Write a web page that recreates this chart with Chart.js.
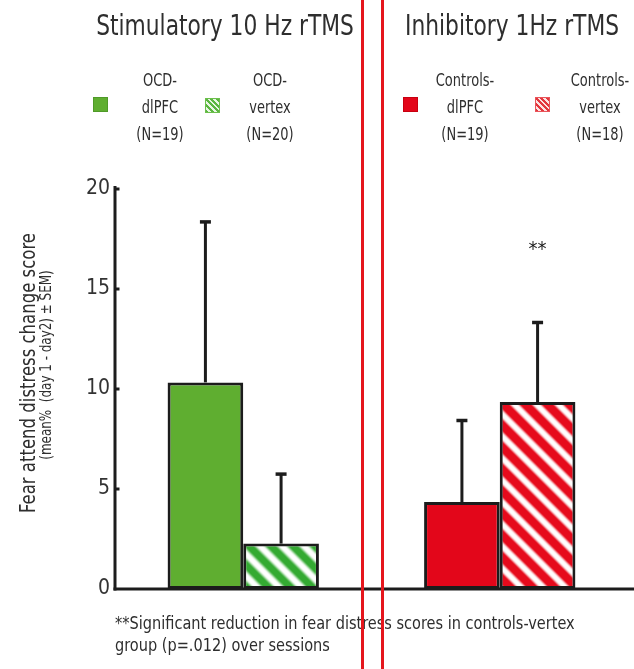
<!DOCTYPE html>
<html>
<head>
<meta charset="utf-8">
<script src="https://cdn.jsdelivr.net/npm/chart.js@4.4.1/dist/chart.umd.min.js"></script>
<style>
  html, body { margin: 0; padding: 0; background: #fff; }
  #wrap { position: relative; width: 634px; height: 669px; overflow: hidden; background: #fff;
    font-family: "DejaVu Sans Condensed", "Liberation Sans Narrow", "Arial Narrow", sans-serif; color: #2e2e2e; }
  #chart { position: absolute; left: 0; top: 0; }
  .t { position: absolute; white-space: nowrap; }
  .title { font-size: 29px; line-height: 29px; transform: translateX(-50%) scaleX(0.835); }
  .leg { font-size: 17px; line-height: 27px; text-align: center; transform: translateX(-50%) scaleX(0.85); }
  .sw { position: absolute; width: 15px; height: 15px; box-sizing: border-box; }
  .ytitle { text-align: center; }
  .note { font-size: 17px; line-height: 22px; transform-origin: 0 0; transform: scaleX(0.95); }
  .sep { position: absolute; top: 0; width: 3px; height: 669px; background: #e5161d; }
</style>
</head>
<body>
<div id="wrap">
  <canvas id="chart" width="634" height="669"></canvas>

  <div class="t title" style="left:225px; top:11px;">Stimulatory 10 Hz rTMS</div>
  <div class="t title" style="left:512px; top:11px;">Inhibitory 1Hz rTMS</div>

  <div class="sw" style="left:93px; top:97px; background:#5fae30; border:1px solid #4f9a28;"></div>
  <div class="t leg" style="left:160px; top:67px;">OCD-<br>dlPFC<br>(N=19)</div>
  <div class="sw" style="left:205px; top:98px; border:1px solid #6cbf4c; background:repeating-linear-gradient(45deg,#5ab640 0 2px,#e8f5e2 2px 4px);"></div>
  <div class="t leg" style="left:270px; top:67px;">OCD-<br>vertex<br>(N=20)</div>

  <div class="sw" style="left:403px; top:97px; background:#e3061a; border:1px solid #c80010;"></div>
  <div class="t leg" style="left:465px; top:67px;">Controls-<br>dlPFC<br>(N=19)</div>
  <div class="sw" style="left:535px; top:97px; border:1px solid #e9545a; background:repeating-linear-gradient(45deg,#e3363c 0 2px,#fbe3e3 2px 4px);"></div>
  <div class="t leg" style="left:600px; top:67px;">Controls-<br>vertex<br>(N=18)</div>

  <div class="t ytitle" style="left:28px; top:373px; font-size:22px; line-height:22px; transform: translate(-50%, -50%) rotate(-90deg) scaleX(0.835);">Fear attend distress change score</div>
  <div class="t ytitle" style="left:46px; top:365px; font-size:16px; line-height:16px; transform: translate(-50%, -50%) rotate(-90deg) scaleX(0.83);">(mean%&nbsp; (day 1 - day2) ± SEM)</div>

  <div class="t note" style="left:115px; top:612px;">**Significant reduction in fear distress scores in controls-vertex<br>group (p=.012) over sessions</div>

  <div class="sep" style="left:361px;"></div>
  <div class="sep" style="left:381px;"></div>
</div>

<script>
// Groups on the x axis and the two stimulation sites within each group
const groups = ['Stimulatory 10 Hz rTMS', 'Inhibitory 1Hz rTMS'];
const dlpfcMean = [10.33, 4.35];
const dlpfcSem = [8.05, 4.10];
const vertexMean = [2.27, 9.35];
const vertexSem = [3.50, 4.00];
// significance marks above the vertex bars
const vertexSig = ['', '**'];
const yTicks = [0, 5, 10, 15, 20];

const FONT = '"DejaVu Sans Condensed", "Liberation Sans Narrow", "Arial Narrow", sans-serif';
const canvas = document.getElementById('chart');
const ctx = canvas.getContext('2d');

// soft diagonal stripes (running top-left to bottom-right)
function stripes(base, period, lo, hi) {
  const c = document.createElement('canvas');
  c.width = period; c.height = period;
  const g = c.getContext('2d');
  const img = g.createImageData(period, period);
  for (let y = 0; y < period; y++) {
    for (let x = 0; x < period; x++) {
      const t = (((x - y) % period) + period) % period / period;
      const w = 0.5 + 0.5 * Math.cos(2 * Math.PI * t);
      let a = Math.min(1, Math.max(0, (w - lo) / (hi - lo)));
      a = a * a * (3 - 2 * a);
      const i = (y * period + x) * 4;
      img.data[i] = base[0] * (1 - a) + 255 * a;
      img.data[i + 1] = base[1] * (1 - a) + 255 * a;
      img.data[i + 2] = base[2] * (1 - a) + 255 * a;
      img.data[i + 3] = 255;
    }
  }
  g.putImageData(img, 0, 0);
  return ctx.createPattern(c, 'repeat');
}

const greenStripes = stripes([52, 170, 50], 22, 0.15, 1.0);
const redStripes = stripes([230, 10, 28], 22, 0.3, 1.0);

const INK = '#1c1c1c';

const decor = {
  id: 'decor',
  afterDatasetsDraw(chart) {
    const c = chart.ctx;
    const ys = chart.scales.y;
    const area = chart.chartArea;
    c.save();
    c.strokeStyle = INK;
    c.fillStyle = INK;
    c.lineCap = 'butt';

    // error bars (upper half only)
    chart.data.datasets.forEach((ds, di) => {
      const meta = chart.getDatasetMeta(di);
      meta.data.forEach((bar, i) => {
        const top = ys.getPixelForValue(ds.data[i] + ds.sem[i]);
        c.lineWidth = 3;
        c.beginPath();
        c.moveTo(bar.x, bar.y);
        c.lineTo(bar.x, top);
        c.stroke();
        c.lineWidth = 3.5;
        c.beginPath();
        c.moveTo(bar.x - 5.5, top + 0.5);
        c.lineTo(bar.x + 5.5, top + 0.5);
        c.stroke();
        const sig = ds.sig ? ds.sig[i] : '';
        if (sig) {
          c.font = '20px ' + FONT;
          c.textAlign = 'center';
          c.textBaseline = 'middle';
          c.fillText(sig, bar.x, top - 72);
        }
      });
    });

    // axes
    c.lineWidth = 3;
    c.beginPath();
    c.moveTo(area.left, area.bottom + 1.5);
    c.lineTo(area.left, ys.getPixelForValue(20) - 3);
    c.stroke();
    c.beginPath();
    c.moveTo(area.left - 1.5, area.bottom);
    c.lineTo(chart.width, area.bottom);
    c.stroke();
    // short inward tick marks
    ys.ticks.forEach(t => {
      const p = ys.getPixelForValue(t.value);
      if (t.value === 0) return;
      c.beginPath();
      c.moveTo(area.left, p);
      c.lineTo(area.left + 4.5, p);
      c.stroke();
    });
    c.restore();
  }
};

new Chart(ctx, {
  type: 'bar',
  data: {
    labels: groups,
    datasets: [
      {
        label: 'dlPFC',
        data: dlpfcMean,
        sem: dlpfcSem,
        backgroundColor: ['#5fae30', '#e3061a'],
        borderColor: INK,
        borderWidth: 3,
        borderSkipped: false
      },
      {
        label: 'vertex',
        data: vertexMean,
        sem: vertexSem,
        sig: vertexSig,
        backgroundColor: [greenStripes, redStripes],
        borderColor: INK,
        borderWidth: 3,
        borderSkipped: false
      }
    ]
  },
  options: {
    responsive: false,
    animation: false,
    devicePixelRatio: 1,
    layout: { padding: { top: 189, right: 6, bottom: 0, left: 0 } },
    datasets: { bar: { categoryPercentage: 0.59, barPercentage: 1 } },
    plugins: { legend: { display: false }, tooltip: { enabled: false }, title: { display: false } },
    scales: {
      x: {
        grid: { display: false },
        border: { display: false },
        ticks: { display: false },
        afterFit(s) { s.height = 80; }
      },
      y: {
        min: 0,
        max: 20,
        afterBuildTicks(s) { s.ticks = yTicks.map(v => ({ value: v })); },
        grid: { display: false, drawTicks: false },
        border: { display: false },
        ticks: {
          padding: 5,
          color: '#333',
          font: { family: FONT, size: 21 }
        },
        afterFit(s) { s.width = 115; }
      }
    }
  },
  plugins: [decor]
});
</script>
</body>
</html>
